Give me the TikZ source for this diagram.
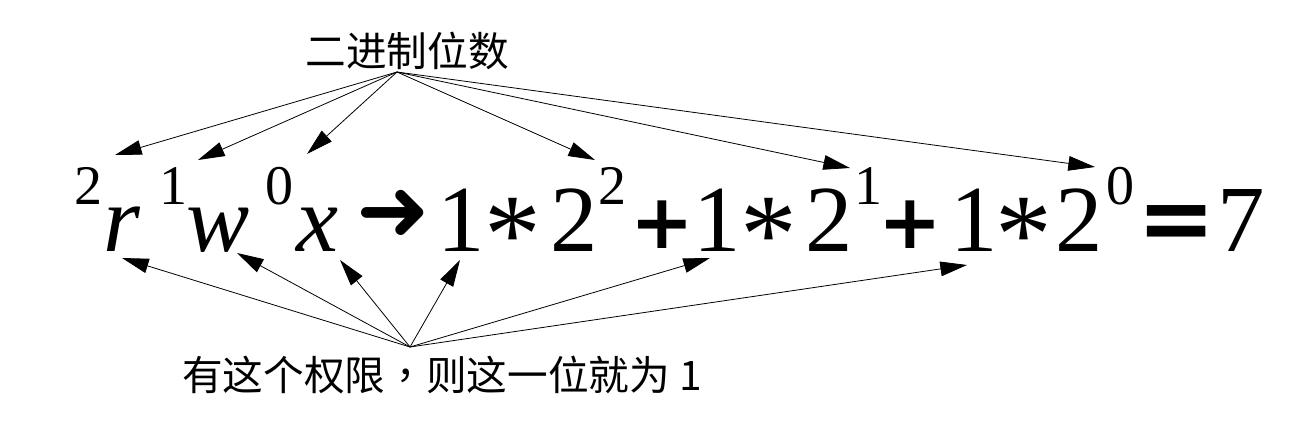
\documentclass[tikz,border=0pt]{standalone}
\usepackage{fontspec}
\setmainfont{Liberation Serif}
\newfontfamily\cjk{Noto Sans CJK SC}
\newfontfamily\cjkp{Noto Sans CJK TC}
\newfontfamily\dejavu{DejaVu Sans}
\usetikzlibrary{arrows.meta}

\begin{document}
\begin{tikzpicture}[x=0.75pt,y=-0.75pt,
	big/.style={inner sep=0pt,anchor=base,font=\fontsize{71}{80}\selectfont},
	pow/.style={inner sep=0pt,anchor=base,font=\fontsize{42}{48}\selectfont},
	star/.style={inner sep=0pt,anchor=north,font=\fontsize{85}{90}\selectfont},
	sym/.style={inner sep=0pt,anchor=north,font=\dejavu\bfseries\fontsize{57}{60}\selectfont},
	lbl/.style={inner sep=0pt,font=\cjk\fontsize{30.5}{36}\selectfont},
	ptr/.style={-{Triangle[length=20pt,width=11pt]},line width=0.6pt}]
			%%%%% START %%%%%
			
			\useasboundingbox (0,0) rectangle (1315,431);
			
			\node[lbl] (bits) at (407,51) {二进制位数};
			\node[lbl] (weight) at (442,375) {有这个权限{\cjkp ，}则这一位就为 1};
			\coordinate (bitsfoot) at (397,72);
			\coordinate (weighthead) at (410,347);
			
			\node[pow] (pr) at (88,205) {2};
			\node[big] (r) at (122,252) {\textit{r}};
			\node[pow] (pw) at (173,205) {1};
			\node[big] (w) at (218,252) {\textit{w}};
			\node[pow] (px) at (279,205) {0};
			\node[big] (x) at (318,252) {\textit{x}};
			\node[sym,font=\dejavu\fontsize{66}{70}\selectfont] (to) at (393,190) {➜};
			
			\node[big] (one1) at (461,252) {1};
			\node[star] (ast1) at (513,198) {\makebox[28pt]{*}};
			\node[big] (two1) at (574,252) {2};
			\node[pow] (pa) at (612,205) {2};
			\node[sym] (plus1) at (662,201) {+};
			
			\node[big] (one2) at (717,252) {1};
			\node[star] (ast2) at (769,198) {\makebox[28pt]{*}};
			\node[big] (two2) at (829,252) {2};
			\node[pow] (pb) at (868,205) {1};
			\node[sym] (plus2) at (910,201) {+};
			
			\node[big] (one3) at (974,252) {1};
			\node[star] (ast3) at (1024,198) {\makebox[28pt]{*}};
			\node[big] (two3) at (1079,252) {2};
			\node[pow] (pc) at (1120,205) {0};
			\node[sym,font=\dejavu\bfseries\fontsize{70}{72}\selectfont] (eq) at (1177,205) {=};
			\node[big] (seven) at (1241,252) {7};
			
			% tips above the powers
			\coordinate (tr) at (115,155);
			\coordinate (tw) at (198,160);
			\coordinate (tx) at (307,154);
			\coordinate (ta) at (595,160);
			\coordinate (tb) at (850,168);
			\coordinate (tc) at (1095,167);
			
			\draw[ptr] (bitsfoot) -- (tr);
			\draw[ptr] (bitsfoot) -- (tw);
			\draw[ptr] (bitsfoot) -- (tx);
			\draw[ptr] (bitsfoot) -- (ta);
			\draw[ptr] (bitsfoot) -- (tb);
			\draw[ptr] (bitsfoot) -- (tc);
			
			% tips below the letters and digits
			\coordinate (br) at (122,258);
			\coordinate (bw) at (237,253);
			\coordinate (bx) at (340,260);
			\coordinate (b1) at (460,260);
			\coordinate (b2) at (710,258);
			\coordinate (b3) at (967,265);
			
			\draw[ptr] (weighthead) -- (br);
			\draw[ptr] (weighthead) -- (bw);
			\draw[ptr] (weighthead) -- (bx);
			\draw[ptr] (weighthead) -- (b1);
			\draw[ptr] (weighthead) -- (b2);
			\draw[ptr] (weighthead) -- (b3);
			
			%%%%% END %%%%%
\end{tikzpicture}
\end{document}
